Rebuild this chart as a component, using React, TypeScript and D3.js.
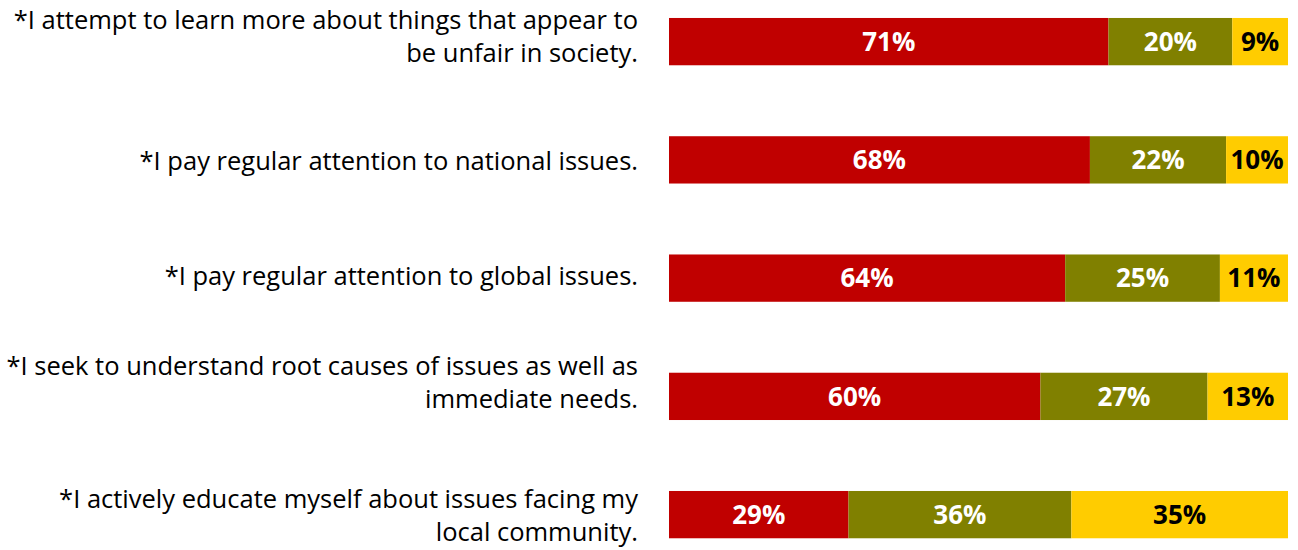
import React from "react";
import * as d3 from "d3";

const categories: string[][] = [
  ["*I attempt to learn more about things that appear to", "be unfair in society."],
  ["*I pay regular attention to national issues."],
  ["*I pay regular attention to global issues."],
  ["*I seek to understand root causes of issues as well as", "immediate needs."],
  ["*I actively educate myself about issues facing my", "local community."],
];
const seriesA = [71, 68, 64, 60, 29];
const seriesB = [20, 22, 25, 27, 36];
const seriesC = [9, 10, 11, 13, 35];
const colors = ["#C00000", "#808000", "#FFCC00"];
const textColors = ["#ffffff", "#ffffff", "#000000"];

// layout: small vertical nudges of the category labels, as in the original
const LABEL_NUDGE = [-3, 3, 0, -12, 3];

const W = 1298;
const H = 550;

export default function App() {
  const x = d3.scaleLinear().domain([0, 100]).range([669, 1288]);
  const ids = categories.map((_, i) => String(i));
  const y = d3
    .scaleBand<string>()
    .domain(ids)
    .range([-17.5, 573.75])
    .paddingInner(0.6)
    .paddingOuter(0.3);
  const series = [seriesA, seriesB, seriesC];
  const font = "'Open Sans', Lato, sans-serif";
  return (
    <svg width={W} height={H} style={{ position: "absolute", left: 0, top: 0 }}>
      <rect width={W} height={H} fill="#fff" />
      {ids.map((id, i) => {
        const y0 = y(id)!;
        const bw = y.bandwidth();
        const cy = y0 + bw / 2;
        let cum = 0;
        const lines = categories[i];
        const lh = 33;
        return (
          <g key={id}>
            {series.map((s, k) => {
              const v = s[i];
              const xs = x(cum);
              const xe = x(cum + v);
              cum += v;
              return (
                <g key={k}>
                  <rect x={xs} y={y0} width={xe - xs} height={bw} fill={colors[k]} />
                  <text
                    x={(xs + xe) / 2}
                    y={cy}
                    dy="0.36em"
                    textAnchor="middle"
                    fill={textColors[k]}
                    fontFamily={font}
                    fontWeight="bold"
                    fontSize={26}
                  >
                    {v}%
                  </text>
                </g>
              );
            })}
            {lines.map((ln, j) => (
              <text
                key={j}
                x={638}
                y={cy - 2 + LABEL_NUDGE[i] + (j - (lines.length - 1) / 2) * lh}
                dy="0.36em"
                textAnchor="end"
                fill="#000"
                fontFamily={font}
                fontSize={25.5}
              >
                {ln}
              </text>
            ))}
          </g>
        );
      })}
    </svg>
  );
}
